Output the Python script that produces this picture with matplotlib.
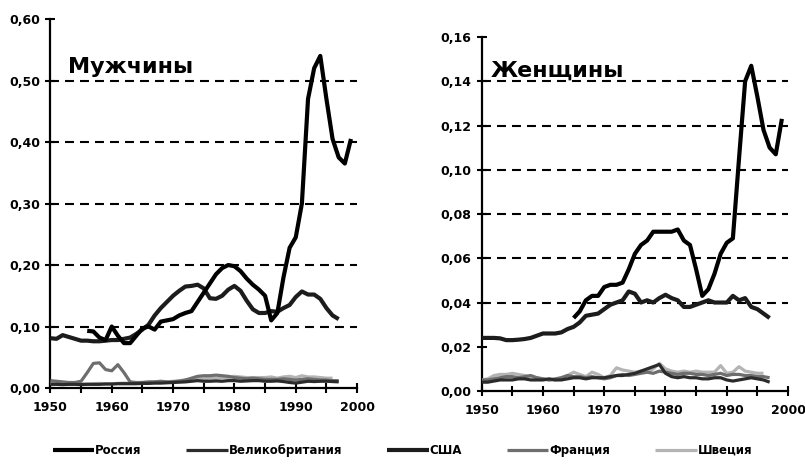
import matplotlib.pyplot as plt
import numpy as np

plt.rcParams['font.family'] = ['DejaVu Sans']
plt.rcParams['font.weight'] = 'bold'

# ---- data (rates) ----
series_names = ['Россия', 'Великобритания', 'США', 'Франция', 'Швеция']
series_colors = ['#000000', '#2b2b2b', '#1c1c1c', '#6e6e6e', '#b4b4b4']

# men
men_russia_start = 1956
men_russia = [0.093, 0.092, 0.082, 0.078, 0.100, 0.085, 0.073, 0.073, 0.085, 0.097,
              0.100, 0.095, 0.108, 0.110, 0.112, 0.118, 0.122, 0.125, 0.140, 0.155,
              0.170, 0.185, 0.195, 0.200, 0.198, 0.190, 0.178, 0.168, 0.160, 0.150,
              0.110, 0.122, 0.180, 0.228, 0.245, 0.300, 0.470, 0.520, 0.540, 0.470,
              0.405, 0.375, 0.365, 0.405]
men_usa_start = 1950
men_usa = [0.081, 0.080, 0.086, 0.083, 0.080, 0.077, 0.077, 0.076, 0.076, 0.077,
           0.078, 0.078, 0.080, 0.082, 0.088, 0.095, 0.103, 0.118, 0.130, 0.140,
           0.150, 0.158, 0.165, 0.166, 0.168, 0.162, 0.146, 0.145, 0.150, 0.160,
           0.166, 0.158, 0.142, 0.128, 0.122, 0.122, 0.125, 0.124, 0.130, 0.135,
           0.148, 0.157, 0.152, 0.152, 0.145, 0.130, 0.118, 0.112]
men_uk_start = 1950
men_uk = [0.006, 0.006, 0.0055, 0.006, 0.006, 0.0055, 0.006, 0.006, 0.006, 0.0065,
          0.0065, 0.007, 0.007, 0.007, 0.007, 0.0075, 0.0075, 0.008, 0.008, 0.0085,
          0.009, 0.0095, 0.010, 0.011, 0.012, 0.011, 0.011, 0.0115, 0.011, 0.012,
          0.012, 0.011, 0.0115, 0.012, 0.012, 0.011, 0.011, 0.0115, 0.0105, 0.009,
          0.008, 0.0095, 0.011, 0.0105, 0.011, 0.011, 0.0105, 0.010]
men_france_start = 1950
men_france = [0.012, 0.011, 0.010, 0.009, 0.009, 0.011, 0.025, 0.040, 0.041, 0.030,
              0.028, 0.038, 0.025, 0.010, 0.009, 0.009, 0.010, 0.010, 0.011, 0.010,
              0.010, 0.011, 0.013, 0.016, 0.019, 0.020, 0.020, 0.021, 0.020, 0.019,
              0.017, 0.016, 0.015, 0.016, 0.015, 0.014, 0.014, 0.014, 0.015, 0.014,
              0.013, 0.014, 0.015, 0.014, 0.013, 0.013, 0.012, 0.012]
men_sweden_start = 1950
men_sweden = [0.008, 0.007, 0.007, 0.0065, 0.007, 0.007, 0.0065, 0.007, 0.0075, 0.007,
              0.007, 0.0075, 0.008, 0.008, 0.0085, 0.009, 0.009, 0.010, 0.0095, 0.010,
              0.011, 0.012, 0.013, 0.014, 0.015, 0.015, 0.016, 0.016, 0.017, 0.017,
              0.019, 0.018, 0.017, 0.017, 0.017, 0.017, 0.018, 0.016, 0.018, 0.019,
              0.017, 0.020, 0.018, 0.018, 0.017, 0.016, 0.016]

# women
women_russia_start = 1965
women_russia = [0.033, 0.036, 0.041, 0.043, 0.043, 0.047, 0.048, 0.048, 0.049, 0.055,
                0.062, 0.066, 0.068, 0.072, 0.072, 0.072, 0.072, 0.073, 0.068, 0.066,
                0.055, 0.043, 0.046, 0.053, 0.062, 0.067, 0.069, 0.105, 0.140, 0.147,
                0.133, 0.118, 0.110, 0.107, 0.123]
women_usa_start = 1950
women_usa = [0.024, 0.024, 0.024, 0.0238, 0.023, 0.023, 0.0232, 0.0235, 0.024, 0.025,
             0.026, 0.026, 0.026, 0.0265, 0.028, 0.029, 0.031, 0.034, 0.0345, 0.035,
             0.037, 0.039, 0.040, 0.041, 0.045, 0.044, 0.040, 0.041, 0.040, 0.042,
             0.0435, 0.042, 0.041, 0.038, 0.038, 0.039, 0.040, 0.041, 0.040, 0.040,
             0.040, 0.043, 0.041, 0.042, 0.038, 0.037, 0.035, 0.033]
women_uk_start = 1950
women_uk = [0.004, 0.004, 0.0045, 0.005, 0.005, 0.005, 0.0055, 0.0055, 0.005, 0.005,
            0.005, 0.0055, 0.005, 0.005, 0.0055, 0.006, 0.006, 0.0055, 0.006, 0.006,
            0.006, 0.0065, 0.007, 0.007, 0.0075, 0.008, 0.009, 0.010, 0.011, 0.012,
            0.008, 0.0065, 0.006, 0.0065, 0.006, 0.006, 0.0055, 0.0055, 0.006, 0.006,
            0.005, 0.0045, 0.005, 0.0055, 0.006, 0.0055, 0.005, 0.004]
women_france_start = 1950
women_france = [0.005, 0.005, 0.0055, 0.006, 0.0065, 0.0065, 0.006, 0.0065, 0.007, 0.006,
                0.0055, 0.005, 0.0055, 0.006, 0.007, 0.0065, 0.0065, 0.006, 0.0065, 0.006,
                0.0055, 0.006, 0.007, 0.0075, 0.007, 0.0075, 0.008, 0.0085, 0.008, 0.009,
                0.0085, 0.008, 0.0075, 0.008, 0.008, 0.0075, 0.0075, 0.007, 0.0075, 0.008,
                0.007, 0.0075, 0.0075, 0.007, 0.007, 0.0065, 0.0065, 0.006]
women_sweden_start = 1950
women_sweden = [0.005, 0.0055, 0.007, 0.0075, 0.0075, 0.008, 0.0075, 0.007, 0.0065, 0.006,
                0.0055, 0.005, 0.005, 0.006, 0.007, 0.0085, 0.0075, 0.0065, 0.0085, 0.0075,
                0.006, 0.007, 0.0105, 0.0095, 0.009, 0.0085, 0.009, 0.0085, 0.010, 0.0125,
                0.010, 0.009, 0.0085, 0.009, 0.0085, 0.009, 0.0085, 0.0085, 0.0085, 0.0115,
                0.008, 0.0085, 0.011, 0.009, 0.0085, 0.008, 0.008]

men_yticks = [0.0, 0.1, 0.2, 0.3, 0.4, 0.5, 0.6]
men_grid = [0.1, 0.2, 0.3, 0.4, 0.5]
women_yticks = [0.0, 0.02, 0.04, 0.06, 0.08, 0.10, 0.12, 0.14, 0.16]
women_grid = [0.04, 0.06, 0.08, 0.10, 0.12, 0.14]
year_ticks = [1950, 1960, 1970, 1980, 1990, 2000]
year_minor = [1955, 1965, 1975, 1985, 1995]


def draw_panel(ax, data, yticks, grid, title, title_xy):
    # data order: russia, uk, usa, france, sweden
    widths = [3.0, 2.3, 3.0, 2.3, 2.3]
    order = [4, 3, 1, 2, 0]
    for i in order:
        start, vals = data[i]
        yrs = np.arange(start, start + len(vals))
        ax.plot(yrs, vals, color=series_colors[i], lw=widths[i],
                solid_joinstyle='round', solid_capstyle='butt',
                label=series_names[i], zorder=3 + (i in (0, 2)))
    ax.hlines(grid, 1950, 2000, colors='black', linewidth=1.5,
              linestyles=(0, (4.3, 2.9)), zorder=2)
    ax.set_xlim(1950, 2000)
    ax.set_ylim(yticks[0], yticks[-1])
    ax.set_xticks(year_ticks)
    ax.set_xticks(year_minor, minor=True)
    ax.set_yticks(yticks)
    ax.set_yticklabels([('%.2f' % v).replace('.', ',') for v in yticks])
    for s in ['top', 'right']:
        ax.spines[s].set_visible(False)
    for s in ['left', 'bottom']:
        ax.spines[s].set_linewidth(1.6)
    ax.tick_params(which='both', direction='inout', length=7, width=1.5,
                   labelsize=9)
    ax.tick_params(axis='x', pad=6)
    ax.tick_params(axis='y', pad=4)
    ax.set_facecolor('white')
    ax.text(title_xy[0], title_xy[1], title, transform=ax.transAxes,
            fontsize=16, fontweight='bold', va='center', ha='left')


fig = plt.figure(figsize=(8.05, 4.68), dpi=100)
ax1 = fig.add_axes([0.0626, 0.1709, 0.3810, 0.7885])
ax2 = fig.add_axes([0.5984, 0.1645, 0.3805, 0.7564])

men_data = [(men_russia_start, men_russia), (men_uk_start, men_uk),
            (men_usa_start, men_usa), (men_france_start, men_france),
            (men_sweden_start, men_sweden)]
women_data = [(women_russia_start, women_russia), (women_uk_start, women_uk),
              (women_usa_start, women_usa), (women_france_start, women_france),
              (women_sweden_start, women_sweden)]

draw_panel(ax1, men_data, men_yticks, men_grid, 'Мужчины', (0.058, 0.87))
draw_panel(ax2, women_data, women_yticks, women_grid, 'Женщины', (0.03, 0.905))

handles, labels = ax1.get_legend_handles_labels()
lookup = dict(zip(labels, handles))
fig.legend([lookup[n] for n in series_names], series_names, loc='center',
           bbox_to_anchor=(0.5, 0.038), ncol=5, frameon=False,
           handlelength=3.5, handletextpad=0.1, columnspacing=3.8,
           prop={'size': 8.5, 'weight': 'bold'})

fig.savefig('out.png', dpi=100)
